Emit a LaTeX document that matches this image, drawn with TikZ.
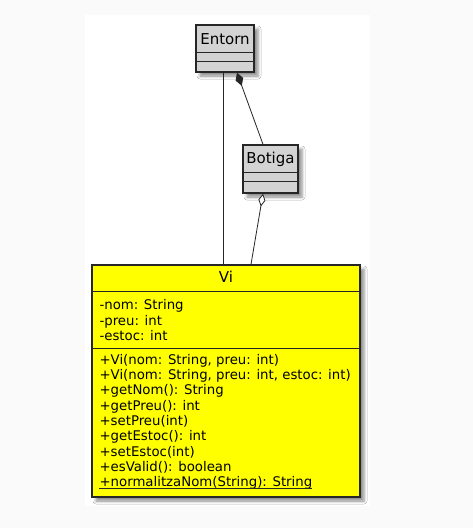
\documentclass[tikz,border=0pt]{standalone}
\usepackage{fontspec}
\setmainfont{DejaVu Sans}
\usetikzlibrary{arrows.meta,shadows.blur,backgrounds}
\definecolor{umlgray}{HTML}{D3D3D3}
\definecolor{umlyellow}{HTML}{FFFF00}
\definecolor{umlline}{HTML}{262626}
\definecolor{pagebg}{HTML}{FAFAFA}

\begin{document}
\begin{tikzpicture}[x=1pt,y=-1pt,
  cls/.style={draw=umlline,line width=1.3pt,inner sep=0pt,
    blur shadow={shadow xshift=4pt,shadow yshift=-4pt,shadow blur radius=3pt,shadow opacity=45}},
  sep/.style={draw=umlline,line width=1.1pt},
  clsname/.style={anchor=base,inner sep=0pt,font=\fontsize{15}{18}\selectfont},
  member/.style={anchor=base west,inner sep=0pt,font=\fontsize{13.3}{15.3}\selectfont},
  link/.style={draw=umlline,line width=0.8pt}]
\useasboundingbox (0,0) rectangle (473,528);

\node[cls,fill=umlgray,minimum width=58pt,minimum height=47pt] (entorn) at (225,48.5) {};
\node[cls,fill=umlgray,minimum width=55pt,minimum height=48pt] (botiga) at (270.5,169) {};
\node[cls,fill=umlyellow,minimum width=268pt,minimum height=232pt] (vi) at (226,381) {};

\foreach \c/\a/\b in {entorn/28/37,botiga/28/37.5,vi/27/84}
\foreach \s in {\a,\b}
\draw[sep] ([yshift=-\s*1pt]\c.north west) -- ([yshift=-\s*1pt]\c.north east);

\node[clsname] (entorn-name) at ([yshift=-19.8pt]entorn.north) {Entorn};
\node[clsname] (botiga-name) at ([yshift=-19.5pt]botiga.north) {Botiga};
\node[clsname] (vi-name) at ([yshift=-18.5pt]vi.north) {Vi};

\foreach \t [count=\i] in {-nom: String,-preu: int,-estoc: int}
\node[member] (attr\i) at ([xshift=8pt,yshift={-(30.2+15.3*\i)*1pt}]vi.north west) {\t};

\foreach \t [count=\i] in {{+Vi(nom: String, preu: int)},{+Vi(nom: String, preu: int, estoc: int)},
  +getNom(): String,+getPreu(): int,+setPreu(int),+getEstoc(): int,+setEstoc(int),
  +esValid(): boolean,+normalitzaNom(String): String}
\node[member] (op\i) at ([xshift=8pt,yshift={-(84.7+15.3*\i)*1pt}]vi.north west) {\t};
\draw[umlline,line width=0.8pt] ([yshift=-1.6pt]op9.base west) -- ([yshift=-1.6pt]op9.base east);

\draw[link] ([xshift=-2pt]entorn.south) -- ([xshift=-3pt]vi.north);
\draw[link,{Diamond[length=14pt,width=8pt]}-] ([xshift=12pt]entorn.south) -- ([xshift=-7.5pt]botiga.north);
\draw[link,{Diamond[fill=white,length=13pt,width=7pt]}-] ([xshift=-7.5pt]botiga.south) -- ([xshift=25pt]vi.north);

\begin{scope}[on background layer]
\fill[pagebg] (0,0) rectangle (473,528);
\fill[white] (85,15) rectangle (370,506);
\end{scope}
\end{tikzpicture}
\end{document}
